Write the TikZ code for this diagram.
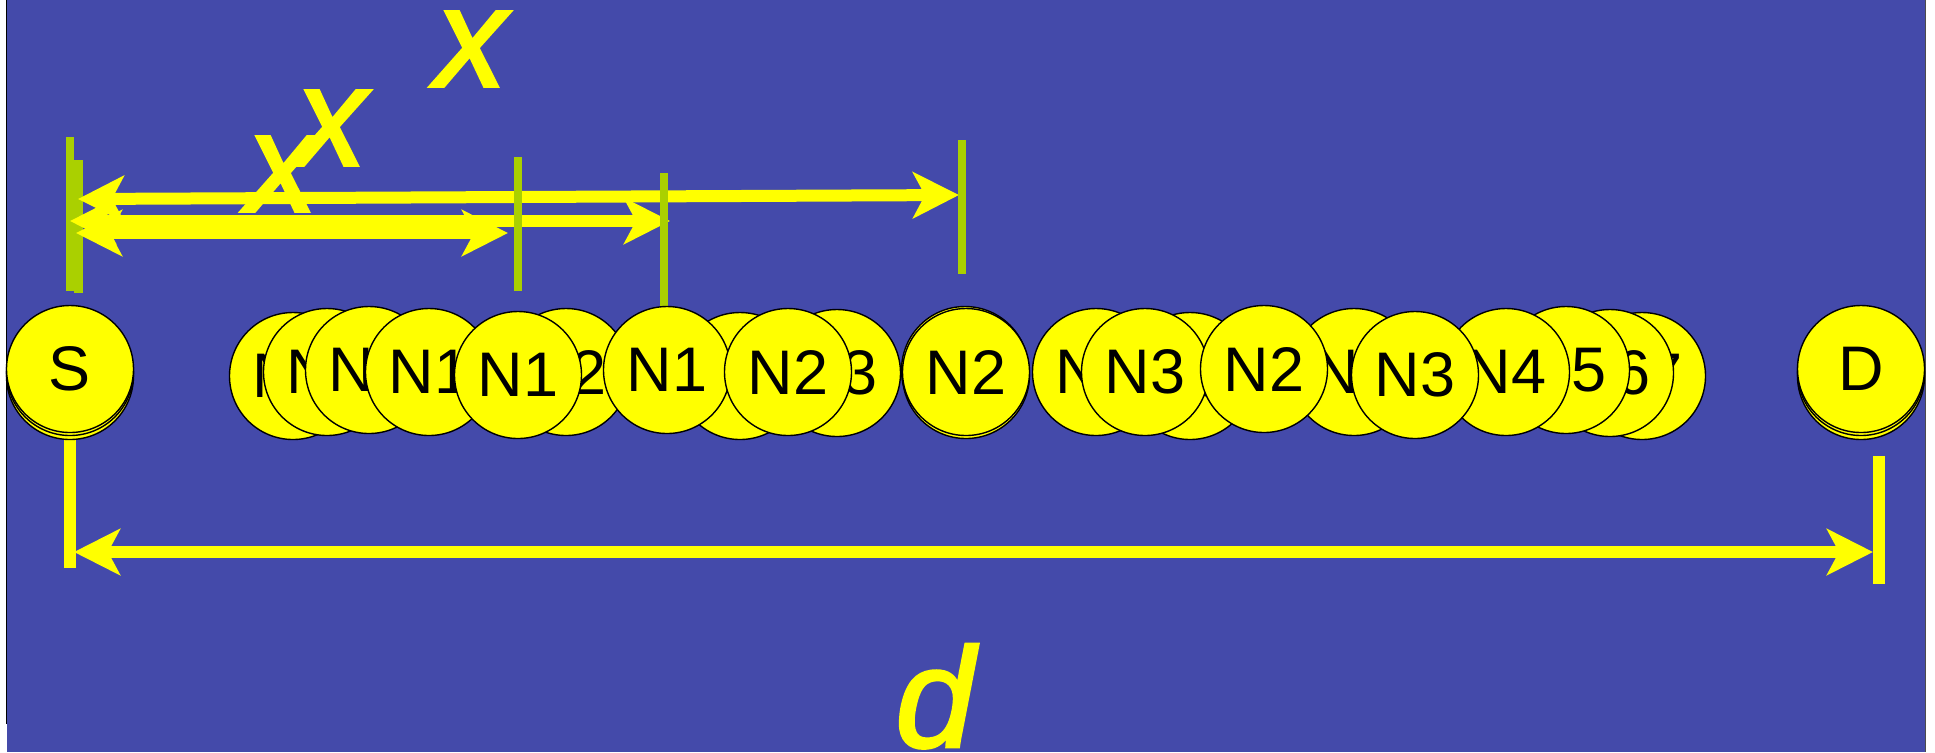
\documentclass[tikz,border=0pt]{standalone}
\usepackage{fontspec}
\setmainfont{Liberation Sans}
\newfontfamily\bigital[FakeBold=2]{Liberation Sans Italic}
\usetikzlibrary{arrows.meta}
\definecolor{bgblue}{RGB}{68,74,170}
\definecolor{ylw}{RGB}{255,255,0}
\definecolor{grn}{RGB}{170,208,0}
\begin{document}
\begin{tikzpicture}[x=0.5pt,y=-0.5pt,
  nd/.style={circle,draw=black,line width=0.7pt,fill=ylw,minimum size=63.5pt,inner sep=0pt,
             font=\fontsize{31.5}{32}\selectfont},
  ring/.style={circle,draw=black,line width=0.7pt,fill=ylw,minimum size=63.5pt,inner sep=0pt},
  dimarrow/.style={draw=ylw,line width=6pt,{Stealth[length=23pt,width=23pt,inset=6pt]}-{Stealth[length=23pt,width=23pt,inset=6pt]}},
  gbar/.style={fill=grn},
  ybar/.style={fill=ylw},
  lbl/.style={text=ylw,font=\fontsize{71}{71}\bigital,inner sep=0pt}]
\useasboundingbox (0,0) rectangle (1935,752);
% background
\fill[white] (0,0) rectangle (1935,752);
\fill[bgblue] (7,0) rectangle (1925,752);
\draw[black,line width=0.8pt] (6.5,0) -- (6.5,724);
\draw[black!70,line width=0.5pt] (1925,0) -- (1925,752);

% green bars at S
\fill[gbar] (66,137) rectangle (74,291);
\fill[gbar] (74,160) rectangle (83,293);

% arrow end points
\coordinate (aL) at (78,199);
\coordinate (aR) at (959,195);
\coordinate (bL) at (70,221);
\coordinate (bR) at (670,221);
\coordinate (cL) at (76,233);
\coordinate (cR) at (508,233);
\coordinate (dL) at (74,552);
\coordinate (dR) at (1873,552);

% dimension arrows
\draw[dimarrow] (aL) -- (aR);
\draw[dimarrow] (bL) -- (bR);
\draw[dimarrow] (cL) -- (cR);

% other green bars
\fill[gbar] (514,157) rectangle (522,291);
\fill[gbar] (660,173) rectangle (668,307);
\fill[gbar] (958,140) rectangle (966,274);

% bottom yellow bars and arrow
\fill[ybar] (64,434) rectangle (76,568);
\fill[ybar] (1873,456) rectangle (1885,584);
\draw[dimarrow] (dL) -- (dR);

% nodes, back to front
\node[nd] (c1) at (293,376) {N1};
\node[nd] (c2) at (327,372) {N1};
\node[nd] (c3) at (369,370) {N1};
\node[nd] (c4) at (429,372) {N1};
\node[nd] (c6) at (566,372) {N2};
\node[nd] (c5) at (518,375) {N1};
\node[nd] (c8) at (740,376) {N2};
\node[nd] (c7) at (667,370) {N1};
\node[nd] (c10) at (837,373) {N3};
\node[nd] (c9) at (788,372) {N2};
\node[ring] (c11c) at (966,375) {};
\node[ring] (c11b) at (965,370) {};
\node[nd] (c11) at (966,372) {N2};
\node[nd] (c12) at (1096,372) {N3};
\node[nd] (c14) at (1190,376) {N3};
\node[nd] (c13) at (1145,372) {N3};
\node[nd] (c16) at (1354,372) {N3};
\node[nd] (c15) at (1264,369) {N2};
\node[nd] (c21) at (1642,376) {N7};
\node[nd] (c20) at (1610,373) {N6};
\node[nd] (c19) at (1566,370) {N5};
\node[nd] (c18) at (1506,372) {N4};
\node[nd] (c17) at (1415,375) {N3};
\node[ring] (Dc) at (1861,376) {};
\node[ring] (Db) at (1861,372) {};
\node[nd] (D) at (1861,369) {D};
\node[ring] (Sc) at (70,376) {};
\node[ring] (Sb) at (70,372) {};
\node[nd] (S) at (70,369) {S};

% labels
\node[lbl] (x1) at (471,49) {x};
\node[lbl] (x2) at (331,128) {x};
\node[lbl] (x3) at (282,174) {x};
\node[lbl,anchor=base] (dd) at (935,747) {d};
\end{tikzpicture}
\end{document}
